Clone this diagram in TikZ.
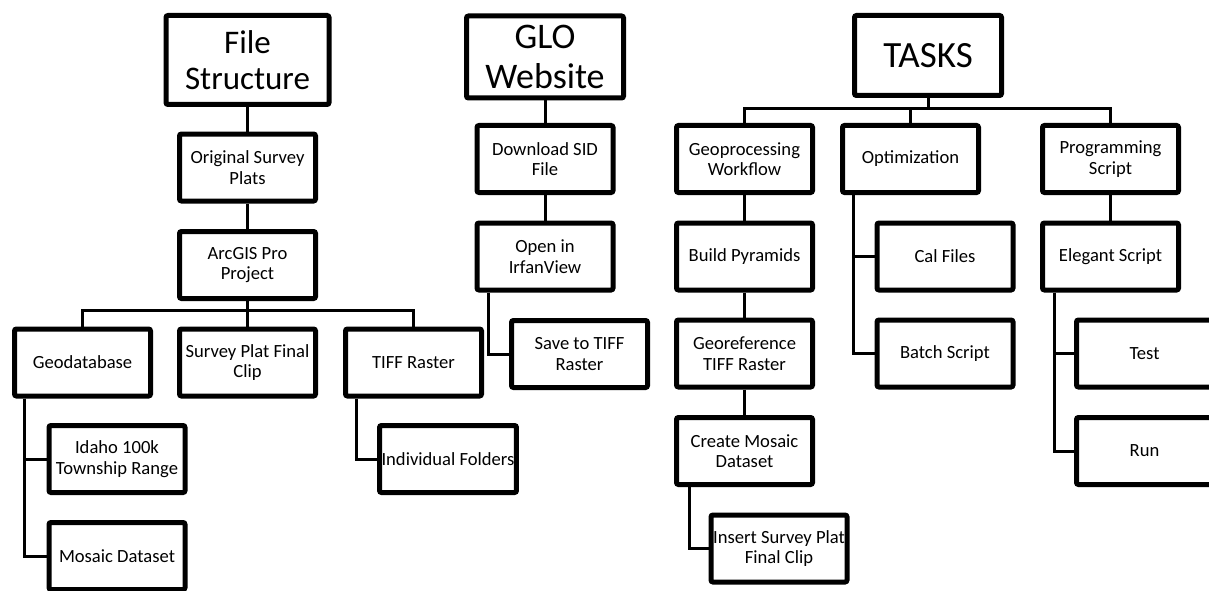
\documentclass[tikz,border=0pt]{standalone}
\usepackage{fontspec}
\setmainfont{Carlito}
\usetikzlibrary{positioning, calc, shadows}

\begin{document}
\begin{tikzpicture}[x=1pt, y=-1pt,
    mainblock/.style = {rectangle, draw=black, line width=5pt, rounded corners=2pt,
                        fill=white, align=center, inner sep=2pt,
                        drop shadow={shadow xshift=1.2pt, shadow yshift=-1.5pt,
                                     opacity=0.18, fill=black}},
    headblock/.style = {mainblock, font=\fontsize{33}{36}\selectfont},
    taskblock/.style = {mainblock, minimum width=136pt, minimum height=67pt,
                        font=\fontsize{18.6}{20.5}\selectfont},
    conn/.style      = {line width=3pt, draw=black},
]
\useasboundingbox (0,0) rectangle (1209,591);
\clip (0,0) rectangle (1209,591);

%% ============================================================
%% HEADERS
%% ============================================================
\node[headblock, minimum width=163pt, minimum height=89pt] (fs)    at (247.5,60)  {File\\Structure};
\node[headblock, minimum width=157pt, minimum height=82pt,
      font=\fontsize{36}{40}\selectfont]                   (glo)   at (545,57)    {GLO\\Website};
\node[headblock, minimum width=147pt, minimum height=80pt,
      font=\fontsize{37}{40}\selectfont]                   (tasks) at (928,55.5)  {TASKS};

%% ============================================================
%% FILE STRUCTURE COLUMN
%% ============================================================
\node[taskblock] (osp)    at (247.5,167.5) {Original Survey\\Plats};
\node[taskblock] (arc)    at (247.5,265)   {ArcGIS Pro\\Project};
\node[taskblock] (geo)    at (82.5,362.5)  {Geodatabase};
\node[taskblock] (spfc)   at (247.5,362.5) {Survey Plat Final\\Clip};
\node[taskblock] (tiff)   at (413.5,362.5) {TIFF Raster};
\node[taskblock] (idaho)  at (117,459)     {Idaho 100k\\Township Range};
\node[taskblock] (mosaic) at (117,556)     {Mosaic Dataset};
\node[taskblock] (indiv)  at (448,459)     {Individual Folders};

%% ============================================================
%% GLO WEBSITE COLUMN
%% ============================================================
\node[taskblock] (dsid)  at (545,159)   {Download SID\\File};
\node[taskblock] (irfan) at (545,256.5) {Open in\\IrfanView};
\node[taskblock] (save)  at (579.5,354) {Save to TIFF\\Raster};

%% ============================================================
%% TASKS COLUMN
%% ============================================================
\node[taskblock] (gpw)   at (744.5,159)    {Geoprocessing\\Workflow};
\node[taskblock] (opt)   at (910.5,159)    {Optimization};
\node[taskblock] (prog)  at (1110.5,159)   {Programming\\Script};
\node[taskblock] (pyr)   at (744.5,256.5)  {Build Pyramids};
\node[taskblock] (cal)   at (945,256.5)    {Cal Files};
\node[taskblock] (eleg)  at (1110.5,256.5) {Elegant Script};
\node[taskblock] (geor)  at (744.5,353.5)  {Georeference\\TIFF Raster};
\node[taskblock] (batch) at (945,353.5)    {Batch Script};
\node[taskblock] (test)  at (1144.5,353.5) {Test};
\node[taskblock] (cmd)   at (744.5,451)    {Create Mosaic\\Dataset};
\node[taskblock] (run)   at (1144.5,451)   {Run};
\node[taskblock] (ins)   at (779,548.5)    {Insert Survey Plat\\Final Clip};

%% ============================================================
%% FILE STRUCTURE CONNECTIONS
%% ============================================================
\draw[conn] (fs.south)  -- (osp.north);
\draw[conn] (osp.south) -- (arc.north);
\draw[conn] (arc.south) -- (spfc.north);
\draw[conn] (geo.north) -- ++(0,-16.5) -| (tiff.north);

\coordinate (geoTap) at ([xshift=12.5pt]geo.south west);
\draw[conn] (geoTap) |- (idaho.west);
\draw[conn] (geoTap) |- (mosaic.west);

\coordinate (tiffTap) at ([xshift=13.5pt]tiff.south west);
\draw[conn] (tiffTap) |- (indiv.west);

%% ============================================================
%% GLO WEBSITE CONNECTIONS
%% ============================================================
\draw[conn] (glo.south)  -- (dsid.north);
\draw[conn] (dsid.south) -- (irfan.north);
\coordinate (irfanTap) at ([xshift=13.5pt]irfan.south west);
\draw[conn] (irfanTap) |- (save.west);

%% ============================================================
%% TASKS CONNECTIONS
%% ============================================================
\coordinate (taskBus) at ([yshift=14.5pt]gpw.north);
\draw[conn] (tasks.south) -- (tasks.south |- taskBus);
\draw[conn] (gpw.north) -- (taskBus) -| (prog.north);
\draw[conn] (opt.north) -- (opt.north |- taskBus);

\draw[conn] (gpw.south)  -- (pyr.north);
\draw[conn] (pyr.south)  -- (geor.north);
\draw[conn] (geor.south) -- (cmd.north);
\coordinate (cmdTap) at ([xshift=15.5pt]cmd.south west);
\draw[conn] (cmdTap) |- (ins.west);

\coordinate (optTap) at ([xshift=13.5pt]opt.south west);
\draw[conn] (optTap) |- (cal.west);
\draw[conn] (optTap) |- (batch.west);

\draw[conn] (prog.south) -- (eleg.north);
\coordinate (elegTap) at ([xshift=14.5pt]eleg.south west);
\draw[conn] (elegTap) |- (test.west);
\draw[conn] (elegTap) |- (run.west);

\end{tikzpicture}
\end{document}
